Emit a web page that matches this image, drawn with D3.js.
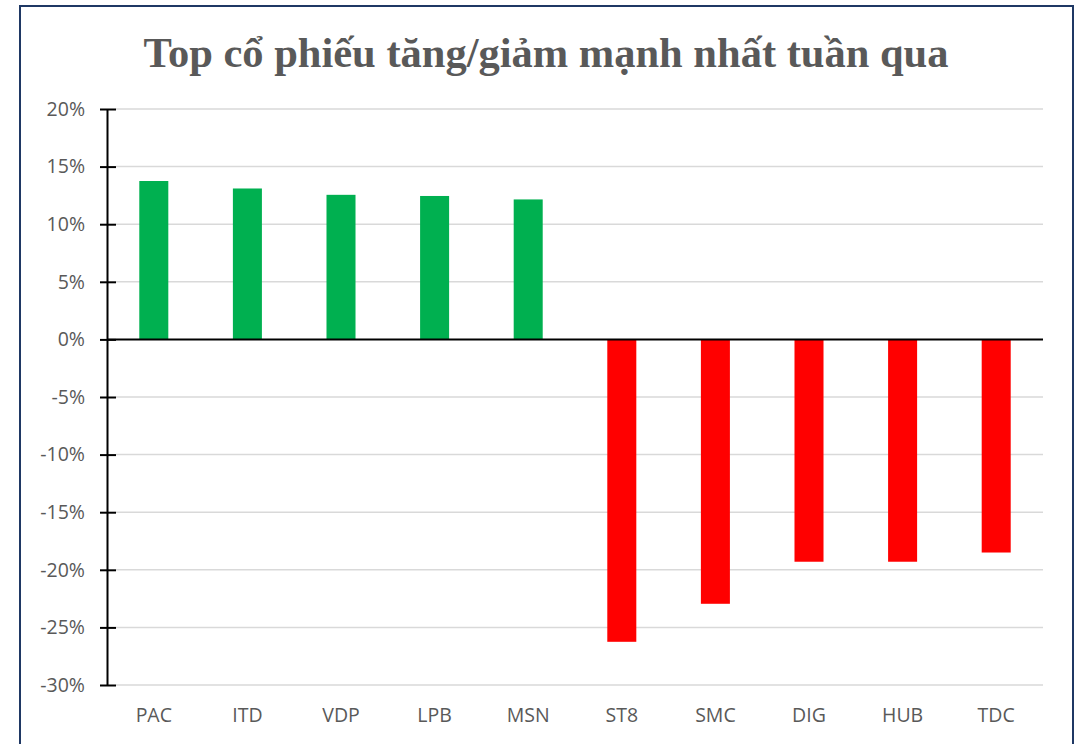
<!DOCTYPE html>
<html lang="vi">
<head>
    <meta charset="UTF-8">
    <title>Top cổ phiếu tăng/giảm mạnh nhất tuần qua</title>
    <style>
        html, body { margin: 0; padding: 0; background: #fff; }
        svg { display: block; }
    </style>
</head>
<body>
    <div id="chart"></div>

    <script src="https://d3js.org/d3.v7.min.js"></script>
    <script>
        // Data (weekly % change)
        const tickers = ["PAC", "ITD", "VDP", "LPB", "MSN", "ST8", "SMC", "DIG", "HUB", "TDC"];
        const changes = [13.75, 13.1, 12.55, 12.45, 12.15, -26.25, -22.95, -19.3, -19.3, -18.5];
        const yTicks = [20, 15, 10, 5, 0, -5, -10, -15, -20, -25, -30];
        const title = "Top cổ phiếu tăng/giảm mạnh nhất tuần qua";

        const W = 1081, H = 744;
        const plot = { left: 107, right: 1043, top: 109, bottom: 685 };

        const svg = d3.select("#chart").append("svg")
            .attr("width", W)
            .attr("height", H);

        // outer frame
        svg.append("rect")
            .attr("x", 20).attr("y", 6)
            .attr("width", 1053).attr("height", 760)
            .attr("fill", "#fff")
            .attr("stroke", "#1f3864")
            .attr("stroke-width", 2);

        svg.append("text")
            .attr("x", 546).attr("y", 67)
            .attr("text-anchor", "middle")
            .attr("font-family", "'Liberation Serif', 'Times New Roman', serif")
            .attr("font-weight", "bold")
            .attr("font-size", 42.5)
            .attr("fill", "#595959")
            .text(title);

        const x = d3.scaleBand()
            .domain(tickers)
            .range([plot.left, plot.right])
            .paddingInner(0.69)
            .paddingOuter(0.345);

        const y = d3.scaleLinear()
            .domain([-30, 20])
            .range([plot.bottom, plot.top]);

        // gridlines
        svg.append("g")
            .selectAll("line")
            .data(yTicks.filter(d => d !== 0))
            .join("line")
            .attr("x1", plot.left + 9).attr("x2", plot.right)
            .attr("y1", d => y(d)).attr("y2", d => y(d))
            .attr("stroke", "#d9d9d9")
            .attr("stroke-width", 1.5);

        // bars
        svg.append("g")
            .selectAll("rect")
            .data(tickers)
            .join("rect")
            .attr("x", d => x(d))
            .attr("width", x.bandwidth())
            .attr("y", (d, i) => y(Math.max(0, changes[i])))
            .attr("height", (d, i) => Math.abs(y(changes[i]) - y(0)))
            .attr("fill", (d, i) => changes[i] >= 0 ? "#00b050" : "#ff0000");

        // y axis with crossing ticks
        const yAxis = svg.append("g")
            .attr("transform", `translate(${plot.left},0)`)
            .call(d3.axisLeft(y).tickValues(yTicks).tickSize(0).tickPadding(22)
                .tickFormat(d => d + "%"));
        yAxis.select(".domain").attr("stroke", "#000").attr("stroke-width", 2);
        yAxis.selectAll(".tick line")
            .attr("x1", -7).attr("x2", 9)
            .attr("stroke", "#000").attr("stroke-width", 2);
        yAxis.selectAll(".tick text")
            .attr("font-family", "'Open Sans', 'Liberation Sans', sans-serif")
            .attr("font-size", 19.5)
            .attr("fill", "#595959");

        // zero line
        svg.append("line")
            .attr("x1", plot.left).attr("x2", plot.right)
            .attr("y1", y(0)).attr("y2", y(0))
            .attr("stroke", "#000")
            .attr("stroke-width", 2);

        // category labels along the bottom
        const xAxis = svg.append("g")
            .attr("transform", `translate(0,${plot.bottom})`)
            .call(d3.axisBottom(x).tickSize(0).tickPadding(23));
        xAxis.select(".domain").remove();
        xAxis.selectAll(".tick text")
            .attr("font-family", "'Open Sans', 'Liberation Sans', sans-serif")
            .attr("font-size", 19.5)
            .attr("fill", "#595959");
    </script>
</body>
</html>
